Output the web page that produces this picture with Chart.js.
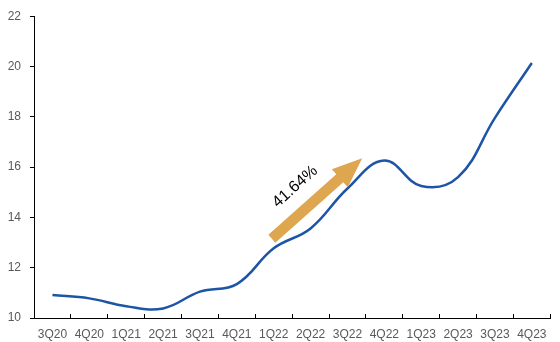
<!DOCTYPE html>
<html>
<head>
<meta charset="utf-8">
<script src="https://cdn.jsdelivr.net/npm/chart.js@4.4.0/dist/chart.umd.min.js"></script>
<style>
html,body{margin:0;padding:0;background:#fff;}
#wrap{width:560px;height:342px;position:relative;}
</style>
</head>
<body>
<div id="wrap"><canvas id="c" width="560" height="342"></canvas></div>
<script>
const categories = ['3Q20','4Q20','1Q21','2Q21','3Q21','4Q21','1Q22','2Q22','3Q22','4Q22','1Q23','2Q23','3Q23','4Q23'];
const values = [10.91, 10.78, 10.47, 10.38, 11.05, 11.35, 12.77, 13.56, 15.15, 16.26, 15.25, 15.6, 17.96, 20.14];
const yTicks = [10, 12, 14, 16, 18, 20, 22];
const arrowLabel = '41.64%';
const arrowFrom = [5.95, 13.15];
const arrowTo = [8.4, 16.35];
const labelAt = [6.58, 15.22];

const arrowPlugin = {
  id: 'arrow',
  afterDatasetsDraw(chart) {
    const {ctx, scales: {x, y}} = chart;
    const x0 = x.getPixelForValue(arrowFrom[0]), y0 = y.getPixelForValue(arrowFrom[1]);
    const x1 = x.getPixelForValue(arrowTo[0]), y1 = y.getPixelForValue(arrowTo[1]);
    const ang = Math.atan2(y1 - y0, x1 - x0);
    const len = Math.hypot(x1 - x0, y1 - y0);
    const shaft = 10.5, head = 24, headLen = 30;
    ctx.save();
    ctx.translate(x0, y0);
    ctx.rotate(ang);
    ctx.fillStyle = '#DDA64F';
    ctx.beginPath();
    ctx.moveTo(0, -shaft/2);
    ctx.lineTo(len - headLen, -shaft/2);
    ctx.lineTo(len - headLen, -head/2);
    ctx.lineTo(len, 0);
    ctx.lineTo(len - headLen, head/2);
    ctx.lineTo(len - headLen, shaft/2);
    ctx.lineTo(0, shaft/2);
    ctx.closePath();
    ctx.fill();
    ctx.restore();
    const lx = x.getPixelForValue(labelAt[0]), ly = y.getPixelForValue(labelAt[1]);
    ctx.save();
    ctx.translate(lx, ly);
    ctx.rotate(ang);
    ctx.font = '16px "Liberation Sans", Arial, sans-serif';
    ctx.fillStyle = '#000';
    ctx.textAlign = 'center';
    ctx.textBaseline = 'middle';
    ctx.fillText(arrowLabel, 0, 0);
    ctx.restore();
  }
};

new Chart(document.getElementById('c'), {
  type: 'line',
  data: {
    labels: categories,
    datasets: [{
      data: values,
      borderColor: '#1D55A6',
      borderWidth: 2.5,
      pointRadius: 0,
      tension: 0.4,
      fill: false
    }]
  },
  options: {
    responsive: false,
    animation: false,
    layout: {padding: {top: 15, right: 0, left: 0, bottom: 0}},
    plugins: {legend: {display: false}, tooltip: {enabled: false}},
    scales: {
      x: {
        offset: true,
        grid: {offset: true, drawOnChartArea: false, drawTicks: true, tickLength: -4, color: '#000'},
        border: {display: true, color: '#000', width: 1},
        ticks: {color: '#595959', font: {family: '"Liberation Sans", Arial, sans-serif', size: 12}, padding: 13.5, maxRotation: 0, autoSkip: false},
        afterFit(s) { s.height = 24; }
      },
      y: {
        min: 10, max: 22,
        afterBuildTicks(s) { s.ticks = yTicks.map(v => ({value: v})); },
        grid: {drawOnChartArea: false, drawTicks: true, tickLength: 4, color: '#000'},
        border: {display: true, color: '#000', width: 1},
        ticks: {color: '#595959', font: {family: '"Liberation Sans", Arial, sans-serif', size: 12}, padding: 9},
        afterFit(s) { s.width = 34; }
      }
    }
  },
  plugins: [arrowPlugin]
});
</script>
</body>
</html>
